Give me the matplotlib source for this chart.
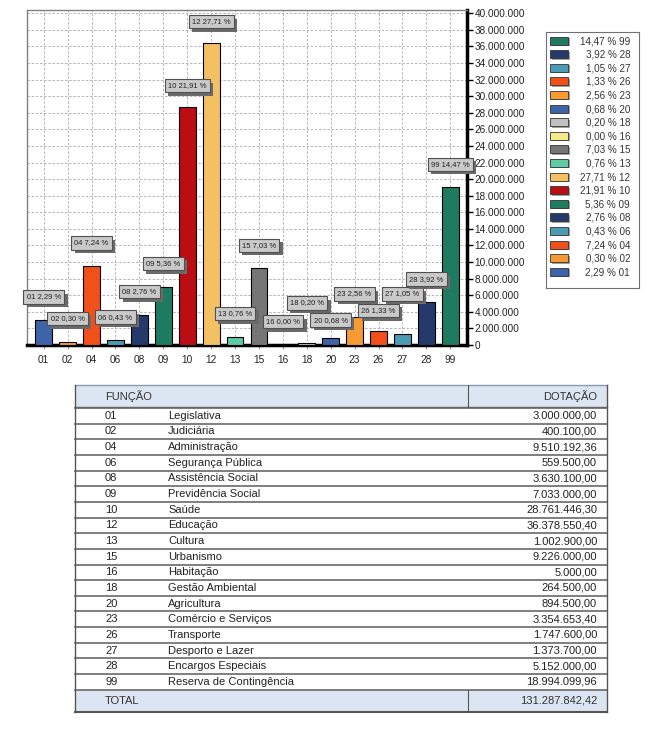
import numpy as np
import matplotlib
matplotlib.use('Agg')
import matplotlib.pyplot as plt
from matplotlib.patches import Rectangle
import matplotlib.patheffects as pe

plt.rcParams['font.family'] = ['Liberation Sans', 'DejaVu Sans']

# data
codes = ['01', '02', '04', '06', '08', '09', '10', '12', '13', '15', '16', '18',
         '20', '23', '26', '27', '28', '99']
names = ['Legislativa', 'Judiciária', 'Administração', 'Segurança Pública',
         'Assistência Social', 'Previdência Social', 'Saúde', 'Educação',
         'Cultura', 'Urbanismo', 'Habitação', 'Gestão Ambiental', 'Agricultura',
         'Comércio e Serviços', 'Transporte', 'Desporto e Lazer',
         'Encargos Especiais', 'Reserva de Contingência']
values = [3000000.00, 400100.00, 9510192.36, 559500.00, 3630100.00, 7033000.00,
          28761446.30, 36378550.40, 1002900.00, 9226000.00, 5000.00, 264500.00,
          894500.00, 3354653.40, 1747600.00, 1373700.00, 5152000.00, 18994099.96]
pcts = ['2,29', '0,30', '7,24', '0,43', '2,76', '5,36', '21,91', '27,71', '0,76',
        '7,03', '0,00', '0,20', '0,68', '2,56', '1,33', '1,05', '3,92', '14,47']
total = 131287842.42

colors = ['#3E63A6', '#F79A34', '#F2501B', '#4B9BB5', '#253A6B', '#1E7B60',
          '#BA0D14', '#F3C163', '#5ECBA5', '#767676', '#F4EA8A', '#C0C0C0',
          '#3E63A6', '#F79A34', '#F2501B', '#4B9BB5', '#253A6B', '#1E7B60']

# extra lift for labels that would overlap (in millions)
lift = {'18': 2.0, '27': 2.0, '20': -0.7, '26': -0.4, '10': -0.3, '12': -0.2}


def br(v, dec=2):
    s = '{:,.{}f}'.format(v, dec)
    return s.replace(',', 'X').replace('.', ',').replace('X', '.')


W, H = 650, 737
fig = plt.figure(figsize=(6.5, 7.37), dpi=100)

# ---- bar chart
ax = fig.add_axes([27 / W, 1 - 345 / H, 440 / W, 335 / H])
x = np.arange(len(codes))
ax.bar(x, values, width=0.7, color=colors, edgecolor='black', linewidth=0.8, zorder=3)
ax.set_xlim(-0.7, len(codes) - 0.3)
ax.set_ylim(0, 40.4e6)
ax.set_xticks(x)
ax.set_xticklabels(codes)
yt = np.arange(0, 40.1e6, 2e6)
ax.set_yticks(yt)
ax.set_yticklabels(['0' if v == 0 else br(v, 0) for v in yt])
ax.yaxis.tick_right()
ax.tick_params(axis='y', length=4, width=1, labelsize=7.2, pad=1.5, labelcolor='#222222')
ax.tick_params(axis='x', length=3, width=0.8, color='#909090', labelsize=7.3, pad=4,
               labelcolor='#222222')
ax.grid(True, color='#ABABAB', linestyle=(0, (3, 2)), linewidth=0.6, zorder=0)
ax.set_axisbelow(True)
for s in ['left', 'top']:
    ax.spines[s].set_color('#808080')
    ax.spines[s].set_linewidth(1)
for s in ['right', 'bottom']:
    ax.spines[s].set_color('black')
    ax.spines[s].set_linewidth(2.5)

for i, c in enumerate(codes):
    yy = values[i] + (2.8 + lift.get(c, 0)) * 1e6
    t = ax.text(x[i], yy, '{} {} %'.format(c, pcts[i]), ha='center', va='center',
                fontsize=5.5, color='#222222', zorder=5,
                bbox=dict(boxstyle='square,pad=0.42', fc='#C9C9C9', ec='#505050', lw=0.8))
    t.get_bbox_patch().set_path_effects(
        [pe.withSimplePatchShadow(offset=(2.5, -2.5), shadow_rgbFace='#6A6A6A', alpha=1)])

# ---- legend (reversed order, text right aligned)
lg = fig.add_axes([546 / W, 1 - 288 / H, 93 / W, 256 / H])
lg.set_xlim(0, 93)
lg.set_ylim(256, 0)
lg.set_xticks([])
lg.set_yticks([])
for s in lg.spines.values():
    s.set_color('#707070')
    s.set_linewidth(0.8)
for j, i in enumerate(range(len(codes) - 1, -1, -1)):
    yc = 9 + 13.6 * j
    lg.add_patch(Rectangle((6, yc - 3), 18, 8, fc='#A0A0A0', ec='none'))
    lg.add_patch(Rectangle((4, yc - 4.5), 18, 8, fc=colors[i], ec='#333333', lw=0.6))
    lg.text(84, yc, '{} % {}'.format(pcts[i], codes[i]), ha='right', va='center',
            fontsize=7.1, color='#333333')

# ---- table
tb = fig.add_axes([75 / W, 1 - 712 / H, 532 / W, 327 / H])
tb.set_xlim(0, 532)
tb.set_ylim(327, 0)
tb.axis('off')
rh = 15.65
top = 23
nrow = len(codes)
tb.add_patch(Rectangle((0, 0), 532, 22, fc='#DCE6F2', ec='none'))
tb.add_patch(Rectangle((0, top + rh * nrow), 532, 327 - top - rh * nrow,
                       fc='#DCE6F2', ec='none'))
tb.plot([0, 532], [0, 0], color='#8A9AB0', lw=1, clip_on=False)
tb.plot([0, 532], [22, 22], color='#555555', lw=1, clip_on=False)
for i in range(nrow + 1):
    yl = top + rh * i
    tb.plot([0, 532], [yl, yl], color='#6A6A6A', lw=1.2, clip_on=False)
tb.plot([0, 532], [326.5, 326.5], color='#555555', lw=1.5, clip_on=False)
tb.plot([0, 0], [0, 327], color='#555555', lw=1, clip_on=False)
tb.plot([531.5, 531.5], [0, 327], color='#555555', lw=1, clip_on=False)
tb.plot([393, 393], [0, 22], color='#555555', lw=0.8)
tb.plot([393, 393], [top + rh * nrow, 327], color='#555555', lw=0.8)

tb.text(30, 11, 'FUNÇÃO', ha='left', va='center', fontsize=8, color='#333333')
tb.text(522, 11, 'DOTAÇÃO', ha='right', va='center', fontsize=8, color='#333333')
for i in range(nrow):
    yc = top + rh * i + rh / 2
    tb.text(30, yc, codes[i], ha='left', va='center', fontsize=8, color='#222222')
    tb.text(93, yc, names[i], ha='left', va='center', fontsize=8, color='#222222')
    tb.text(522, yc, br(values[i]), ha='right', va='center', fontsize=8, color='#222222')
yt_ = (top + rh * nrow + 327) / 2
tb.text(30, yt_, 'TOTAL', ha='left', va='center', fontsize=8, color='#333333')
tb.text(522, yt_, br(total), ha='right', va='center', fontsize=8, color='#333333')

fig.savefig('out.png', dpi=100)
